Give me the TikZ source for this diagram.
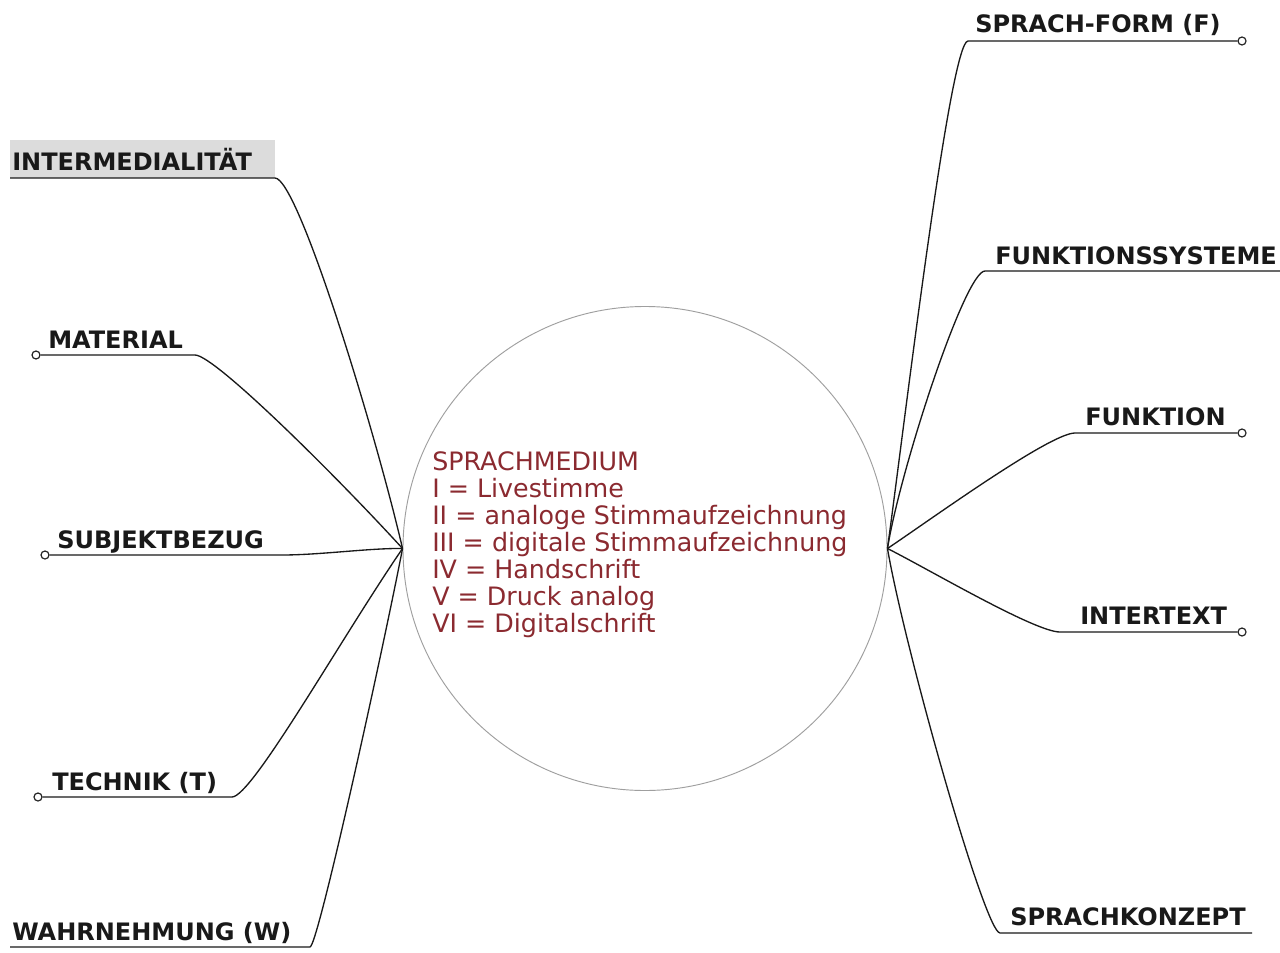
\documentclass[tikz,border=0pt]{standalone}
\usepackage{fontspec}
\setmainfont{DejaVu Sans}
\definecolor{medred}{HTML}{8B2A30}
\definecolor{hlgray}{HTML}{DCDCDC}
\begin{document}
\begin{tikzpicture}[x=0.75pt,y=-0.75pt,
  conn/.style={line width=1pt, black!90},
  lbl/.style={font=\fontsize{18}{22}\selectfont\bfseries, text=black!90, inner sep=0pt, anchor=base west},
  dot/.style={circle, draw=black!85, fill=white, line width=0.9pt, minimum size=6pt, inner sep=0pt}]
\useasboundingbox (0,0) rectangle (1280,952);
\fill[white] (0,0) rectangle (1280,952);

% hub
\node[circle, draw=gray!75, line width=0.7pt, minimum size=363pt, inner sep=0pt] (hub) at (645,548.5) {};
\node[align=left, text=medred, font=\fontsize{19}{20.25}\selectfont, inner sep=0pt, anchor=west] (hubtext) at (432,545)
  {SPRACHMEDIUM\\I = Livestimme\\II = analoge Stimmaufzeichnung\\III = digitale Stimmaufzeichnung\\IV = Handschrift\\V = Druck analog\\VI = Digitalschrift};

% left labels
\fill[hlgray] (10,140) rectangle (275,178);
\node[lbl] (intermed) at (12,171) {INTERMEDIALITÄT};
\node[lbl] (material) at (48,348) {MATERIAL};
\node[lbl] (subjekt) at (57,548) {SUBJEKTBEZUG};
\node[lbl] (technik) at (52,790) {TECHNIK (T)};
\node[lbl] (wahrn) at (12,940) {WAHRNEHMUNG (W)};

% right labels
\node[lbl] (form) at (975,33) {SPRACH-FORM (F)};
\node[lbl] (fsys) at (995,264) {FUNKTIONSSYSTEME};
\node[lbl] (funktion) at (1085,425) {FUNKTION};
\node[lbl] (intertext) at (1080,624) {INTERTEXT};
\node[lbl] (konzept) at (1010,925) {SPRACHKONZEPT};

% underline ends
\coordinate (intermedR) at (275,178); \coordinate (intermedL) at (10,178);
\coordinate (materialR) at (195,355);
\coordinate (subjektR) at (282,555);
\coordinate (technikR) at (232,797);
\coordinate (wahrnR) at (310,947); \coordinate (wahrnL) at (10,947);
\coordinate (formL) at (968,41);
\coordinate (fsysL) at (985,271); \coordinate (fsysR) at (1282,271);
\coordinate (funktionL) at (1075,433);
\coordinate (intertextL) at (1060,632);
\coordinate (konzeptL) at (1000,933); \coordinate (konzeptR) at (1252,933);

% dots
\node[dot] (materialdot) at (36,355) {};
\node[dot] (subjektdot) at (45,555) {};
\node[dot] (technikdot) at (38,797) {};
\node[dot] (formdot) at (1242,41) {};
\node[dot] (funktiondot) at (1242,433) {};
\node[dot] (intertextdot) at (1242,632) {};

% left connectors
\draw[conn] (hub.west) .. controls (375,430) and (298,178) .. (intermedR) -- (intermedL);
\draw[conn] (hub.west) .. controls (340,480) and (215,355) .. (materialR) -- (materialdot);
\draw[conn] (hub.west) .. controls (370,548) and (320,555) .. (subjektR) -- (subjektdot);
\draw[conn] (hub.west) .. controls (340,640) and (252,797) .. (technikR) -- (technikdot);
\draw[conn] (hub.west) .. controls (385,640) and (318,947) .. (wahrnR) -- (wahrnL);

% right connectors
\draw[conn] (hub.east) .. controls (905,420) and (950,41) .. (formL) -- (formdot);
\draw[conn] (hub.east) .. controls (900,470) and (965,271) .. (fsysL) -- (fsysR);
\draw[conn] (hub.east) .. controls (930,520) and (1050,433) .. (funktionL) -- (funktiondot);
\draw[conn] (hub.east) .. controls (930,570) and (1035,632) .. (intertextL) -- (intertextdot);
\draw[conn] (hub.east) .. controls (905,650) and (985,933) .. (konzeptL) -- (konzeptR);
\end{tikzpicture}
\end{document}
